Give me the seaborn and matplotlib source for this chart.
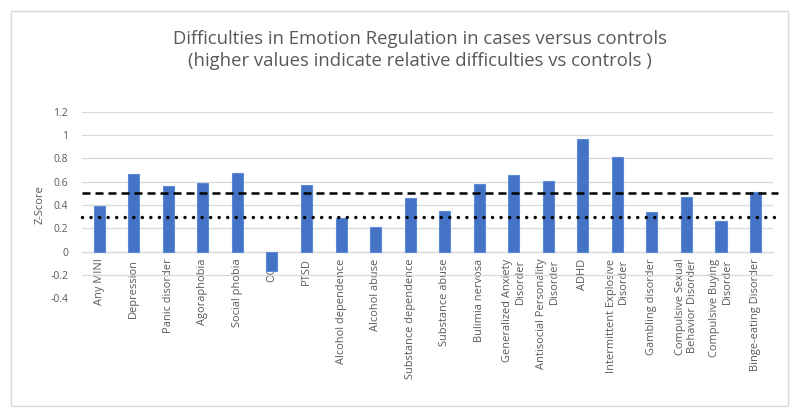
import pandas as pd
import seaborn as sns
import matplotlib.pyplot as plt
from matplotlib.patches import Rectangle

# values
disorders = [
    'Any MINI', 'Depression', 'Panic disorder', 'Agoraphobia', 'Social phobia',
    'OCD', 'PTSD', 'Alcohol dependence', 'Alcohol abuse', 'Substance dependence',
    'Substance abuse', 'Bulimia nervosa', 'Generalized Anxiety\nDisorder',
    'Antisocial Personality\nDisorder', 'ADHD', 'Intermittent Explosive\nDisorder',
    'Gambling disorder', 'Compulsive Sexual\nBehavior Disorder',
    'Compulsive Buying\nDisorder', 'Binge-eating Disorder',
]
z_scores = [0.39, 0.663, 0.563, 0.59, 0.672, -0.17, 0.57, 0.286, 0.21, 0.457,
            0.35, 0.583, 0.655, 0.603, 0.966, 0.809, 0.343, 0.471, 0.266, 0.514]
dashed_ref = 0.5
dotted_ref = 0.295

df = pd.DataFrame({'disorder': disorders, 'z': z_scores})

sns.set_style('white')
plt.rcParams['font.family'] = ['Open Sans', 'DejaVu Sans']

txt = '#595959'
grid = '#D9D9D9'

fig = plt.figure(figsize=(8, 4.19), dpi=100)
ax = fig.add_axes([0.1025, 0.288, 0.8635, 0.4456])

sns.barplot(data=df, x='disorder', y='z', color='#4472C4', width=0.32,
            saturation=1, edgecolor='#5B8BD9', linewidth=0.8, ax=ax, zorder=3)

# reference lines
ax.axhline(dashed_ref, xmin=0, xmax=1.008, color='black', lw=1.8,
           ls=(0, (3.2, 2.0)), clip_on=False, zorder=4)
dot = ax.axhline(dotted_ref, xmin=0, xmax=1.008, color='black', lw=2.5,
                 ls=(0, (0.01, 2.45)), clip_on=False, zorder=4)
dot.set_dash_capstyle('round')

ax.set_ylim(-0.4, 1.2)
ax.set_xlim(-0.5, len(disorders) - 0.5)
ax.set_yticks([-0.4, -0.2, 0, 0.2, 0.4, 0.6, 0.8, 1, 1.2])
ax.set_yticklabels(['-0.4', '-0.2', '0', '0.2', '0.4', '0.6', '0.8', '1', '1.2'])
ax.yaxis.grid(True, color=grid, lw=0.9, zorder=0)
ax.set_axisbelow(True)

for s in ['top', 'right', 'left']:
    ax.spines[s].set_visible(False)
# category labels sit on the zero line, as in the original
ax.spines['bottom'].set_position(('data', 0))
ax.spines['bottom'].set_color(grid)
ax.spines['bottom'].set_linewidth(0.9)

ax.tick_params(axis='y', length=0, colors=txt, labelsize=7.5, pad=10)
ax.tick_params(axis='x', length=0, colors=txt, labelsize=7.9, pad=5)
for lab in ax.get_xticklabels():
    lab.set_rotation(90)
    lab.set_va('top')
    lab.set_ha('center')
    lab.set_multialignment('right')

ax.set_xlabel('')
ax.set_ylabel('Z-Score', color=txt, fontsize=8, labelpad=3)

fig.text(0.525, 0.881, 'Difficulties in Emotion Regulation in cases versus controls\n'
         '(higher values indicate relative difficulties vs controls )',
         ha='center', va='center', color=txt, fontsize=13.3, linespacing=1.25)

# light chart border
fig.patches.append(Rectangle((11 / 800, 1 - 406 / 419), 777 / 800, 395 / 419,
                             transform=fig.transFigure, fill=False,
                             edgecolor=grid, lw=1))

fig.savefig('out.png', dpi=100)
